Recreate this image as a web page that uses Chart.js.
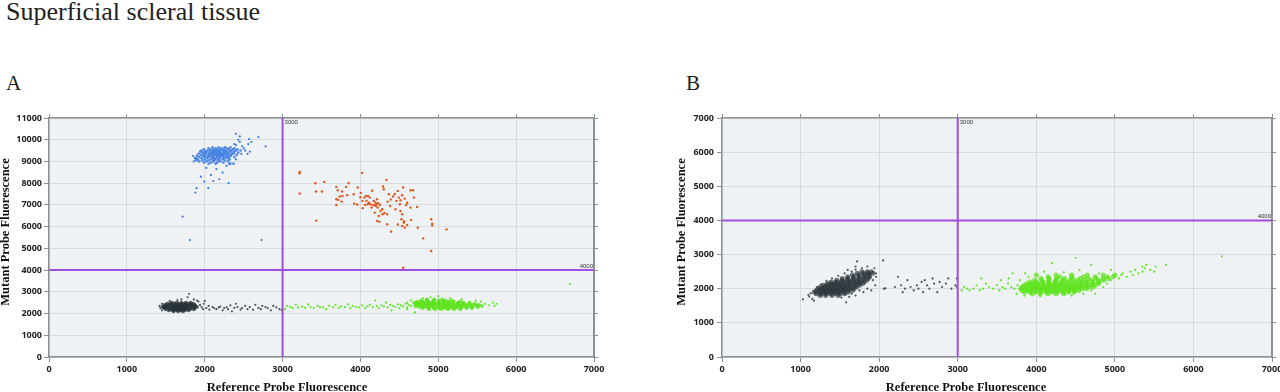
<!DOCTYPE html>
<html>
<head>
<meta charset="utf-8">
<script src="https://cdn.jsdelivr.net/npm/chart.js@4.4.1/dist/chart.umd.min.js"></script>
<style>
  html, body { margin: 0; padding: 0; background: #fff; }
  body { width: 1280px; height: 392px; position: relative; overflow: hidden; }
  .title { position: absolute; left: 6px; top: -1px; font: 26px/26px "Liberation Serif", serif; color: #222; }
  .panel { position: absolute; top: 73px; font: 21px/21px "Liberation Serif", serif; color: #222; }
  .box { position: absolute; top: 100px; height: 292px; }
</style>
</head>
<body>
<div class="title">Superficial scleral tissue</div>
<div class="panel" style="left:6px">A</div>
<div class="panel" style="left:686px">B</div>
<div class="box" style="left:0;width:620px"><canvas id="chartA"></canvas></div>
<div class="box" style="left:640px;width:640px"><canvas id="chartB"></canvas></div>
<script>
// ---- panel A : values ----
// dense double-negative cluster, rows as [y, [x...]]
const aGrayCoreRows = [
  [2500, [1580, 1640, 1700, 1760, 1820]],
  [2450, [1520, 1560, 1610, 1660, 1710, 1750, 1800, 1850]],
  [2400, [1490, 1540, 1590, 1630, 1680, 1720, 1770, 1820, 1870]],
  [2350, [1470, 1510, 1560, 1600, 1650, 1690, 1740, 1780, 1830, 1880]],
  [2300, [1460, 1500, 1550, 1590, 1630, 1670, 1710, 1750, 1800, 1850, 1900]],
  [2250, [1480, 1520, 1570, 1610, 1650, 1690, 1730, 1770, 1820, 1870]],
  [2200, [1500, 1550, 1600, 1640, 1680, 1720, 1760, 1810, 1860]],
  [2150, [1540, 1590, 1640, 1690, 1740, 1790]],
  [2100, [1600, 1660, 1720]]
];
const aGraySparse = [
  [1430, 2250], [1420, 2350], [1450, 2150], [1940, 2400], [1960, 2300], [1920, 2550], [1800, 2900],
  [1780, 2750], [1700, 2650], [1650, 2620], [1900, 2600], [1860, 2650], [1980, 2200], [1990, 2450],
  [1550, 2580], [1450, 2450], [2000, 2580], [2020, 2250], [2050, 2350], [2060, 2180], [2100, 2300],
  [2120, 2250], [2150, 2200], [2180, 2280], [2200, 2320], [2230, 2150], [2250, 2250], [2280, 2300],
  [2300, 2200], [2330, 2380], [2350, 2100], [2380, 2260], [2400, 2450], [2420, 2300], [2460, 2180],
  [2480, 2250], [2520, 2350], [2550, 2200], [2580, 2300], [2620, 2180], [2650, 2400], [2690, 2260],
  [2720, 2200], [2740, 2350], [2780, 2300], [2810, 2250], [2850, 2150], [2880, 2350], [2920, 2280],
  [2960, 2200], [2990, 2150]
];
const aGreenCoreRows = [
  [2650, [4850, 4950, 5050]],
  [2600, [4780, 4860, 4940, 5010, 5090, 5170]],
  [2550, [4730, 4800, 4870, 4930, 5000, 5060, 5130, 5200, 5280]],
  [2500, [4700, 4760, 4820, 4880, 4940, 5000, 5060, 5120, 5180, 5250, 5320, 5400]],
  [2450, [4720, 4780, 4840, 4900, 4960, 5020, 5080, 5140, 5200, 5260, 5330, 5400, 5470]],
  [2400, [4700, 4760, 4820, 4880, 4940, 5000, 5060, 5120, 5180, 5240, 5300, 5370, 5440, 5520]],
  [2350, [4730, 4790, 4850, 4910, 4970, 5030, 5090, 5150, 5210, 5270, 5340, 5410, 5490, 5560]],
  [2300, [4760, 4820, 4880, 4940, 5000, 5060, 5120, 5180, 5240, 5300, 5370, 5440, 5510]],
  [2250, [4800, 4870, 4940, 5010, 5080, 5150, 5220, 5290, 5360, 5430]],
  [2200, [4880, 4960, 5040, 5120, 5200, 5280]]
];
const aGreenSparse = [
  [3030, 2200], [3060, 2350], [3100, 2300], [3130, 2250], [3170, 2400], [3200, 2280], [3250, 2320],
  [3290, 2260], [3330, 2420], [3360, 2300], [3400, 2250], [3450, 2350], [3480, 2300], [3520, 2280],
  [3560, 2200], [3600, 2350], [3650, 2300], [3680, 2400], [3720, 2260], [3750, 2330], [3800, 2300],
  [3840, 2420], [3870, 2250], [3900, 2350], [3940, 2300], [3980, 2280], [4020, 2380], [4060, 2250],
  [4090, 2330], [4120, 2400], [4160, 2300], [4190, 2600], [4210, 2350], [4240, 2250], [4270, 2380],
  [4300, 2330], [4330, 2500], [4350, 2280], [4380, 2400], [4400, 2150], [4420, 2350], [4450, 2300],
  [4480, 2420], [4500, 2250], [4520, 2380], [4550, 2330], [4580, 2450], [4600, 2280], [4620, 2400],
  [4650, 2350], [4680, 2500], [4700, 2300], [5600, 2450], [5650, 2380], [5700, 2500], [5750, 2450],
  [5720, 2350], [5550, 2550], [5480, 2600], [4650, 2600], [4600, 2500], [4900, 2750], [5000, 2800],
  [4800, 2700], [5150, 2700], [5300, 2650], [4700, 2050], [4600, 2200], [6690, 3370]
];
const aBlueCoreRows = [
  [9650, [2100, 2180, 2260, 2330]],
  [9600, [2050, 2140, 2220, 2290, 2380]],
  [9550, [1990, 2070, 2110, 2160, 2200, 2250, 2310, 2360, 2420]],
  [9500, [1960, 2030, 2090, 2130, 2180, 2230, 2270, 2340, 2400, 2460]],
  [9450, [1940, 2000, 2060, 2120, 2150, 2190, 2240, 2280, 2320, 2380]],
  [9400, [1970, 2020, 2080, 2110, 2160, 2200, 2250, 2290, 2350, 2430]],
  [9350, [1920, 1990, 2050, 2100, 2140, 2180, 2220, 2260, 2310, 2370]],
  [9300, [1950, 2010, 2070, 2120, 2170, 2210, 2240, 2290, 2340, 2410]],
  [9250, [1900, 1980, 2040, 2090, 2150, 2190, 2230, 2280, 2330]],
  [9200, [1930, 2000, 2060, 2110, 2160, 2200, 2260, 2310, 2380]],
  [9150, [1880, 1960, 2030, 2100, 2140, 2190, 2240, 2290]],
  [9100, [1910, 2000, 2080, 2130, 2180, 2230, 2320]],
  [9050, [1890, 1970, 2050, 2120, 2170, 2260]],
  [9000, [1930, 2020, 2110, 2200, 2300]],
  [8950, [1990, 2080, 2160, 2240]],
  [8900, [2050, 2140, 2330, 2370]]
];
const aBlueSparse = [
  [2400, 9750], [2450, 9900], [2430, 10000], [2380, 9800], [2500, 9600], [2520, 9500], [2480, 9700],
  [2560, 9800], [2580, 9450], [2600, 9900], [2470, 9350], [2550, 9350], [2782, 9690], [2570, 10030],
  [2450, 10150], [2400, 10270], [2690, 10120], [2315, 8875], [2307, 8000], [1880, 7570], [1896, 7770],
  [2046, 7770], [1995, 8075], [1950, 8300], [2110, 8100], [2187, 8180], [2080, 8380], [2230, 8490],
  [1860, 9000], [1873, 9150], [1716, 6460], [1810, 5380], [2730, 5380], [2020, 8700], [2150, 8650],
  [2280, 8800], [2400, 9100], [1850, 9250]
];
const aOrange = [
  [3219, 8522], [3219, 8460], [3219, 7522], [3420, 7999], [3536, 8060], [3429, 7614], [3506, 7614],
  [3433, 6276], [3691, 7830], [3708, 7676], [3734, 7384], [3768, 7414], [3691, 7261], [3716, 7230],
  [3691, 6999], [3849, 7999], [3815, 7830], [3764, 7614], [4021, 8476], [3965, 7799], [3914, 7491],
  [4004, 7553], [4025, 7184], [4051, 7337], [4068, 7414], [4098, 7414], [4120, 7337], [4077, 7184],
  [4094, 7030], [4128, 7030], [4141, 6876], [4171, 7184], [4193, 7107], [4206, 7030], [4214, 7261],
  [4223, 6876], [4184, 6645], [4257, 6722], [4308, 6630], [4236, 6492], [4283, 6568], [4343, 6568],
  [4214, 6261], [4244, 6230], [4343, 6107], [4394, 5769], [4334, 8153], [4300, 7722], [4364, 7491],
  [4420, 7384], [4480, 7645], [4493, 7337], [4514, 7214], [4463, 7184], [4549, 7799], [4536, 7445],
  [4570, 7291], [4506, 7030], [4587, 6999], [4514, 6722], [4536, 6568], [4527, 6338], [4557, 6184],
  [4536, 6030], [4570, 5953], [4600, 6076], [4643, 7676], [4677, 7676], [4686, 7337], [4643, 6876],
  [4729, 6907], [4737, 5953], [4806, 5461], [4909, 6338], [4922, 6138], [4922, 6061], [5106, 5876],
  [4909, 4877], [4549, 4108], [4180, 7000], [4200, 6950], [4230, 7080], [4160, 6980], [4250, 7000],
  [4110, 7100], [4060, 7000], [3960, 7020], [3920, 7050], [4280, 6800], [4380, 6950], [4450, 6800],
  [4390, 7250], [4350, 7150], [4440, 7500], [4600, 7100], [4650, 6300], [4480, 6100], [4560, 6250],
  [3830, 7450], [3760, 7150], [4000, 7350], [4150, 7650], [4290, 7850], [4030, 6850]
];

// ---- panel B ----
const bGrayCoreRows = [
  [1800, [1250, 1320, 1400, 1480]],
  [1850, [1200, 1260, 1320, 1380, 1440, 1500, 1560]],
  [1900, [1180, 1240, 1290, 1340, 1390, 1440, 1490, 1550, 1600]],
  [1950, [1200, 1250, 1300, 1350, 1400, 1450, 1500, 1550, 1610, 1660]],
  [2000, [1220, 1270, 1320, 1370, 1420, 1470, 1520, 1570, 1620, 1680]],
  [2050, [1250, 1300, 1350, 1400, 1450, 1500, 1550, 1600, 1650, 1710]],
  [2100, [1290, 1340, 1390, 1440, 1490, 1540, 1590, 1640, 1700, 1750]],
  [2150, [1340, 1390, 1440, 1500, 1560, 1620, 1680, 1740, 1790]],
  [2200, [1390, 1450, 1510, 1570, 1630, 1690, 1750, 1810]],
  [2250, [1460, 1530, 1600, 1660, 1720, 1780, 1840]],
  [2300, [1530, 1600, 1670, 1740, 1800, 1860]],
  [2350, [1600, 1680, 1750, 1820, 1880]],
  [2400, [1660, 1740, 1810, 1870]],
  [2450, [1720, 1800, 1860, 1920]],
  [2500, [1780, 1850, 1900]]
];
const bGraySparse = [
  [1030, 1690], [1110, 1770], [1150, 1700], [1170, 1650], [1100, 1820], [1580, 1600], [1650, 1850],
  [1750, 1950], [1800, 1900], [1850, 2000], [1900, 1950], [1950, 2100], [1720, 2800], [1850, 2650],
  [1940, 2600], [1700, 2650], [1600, 2550], [2050, 2830], [2060, 2000], [2080, 2010], [2200, 2050],
  [2240, 2350], [2280, 2100], [2300, 1900], [2330, 2000], [2360, 2250], [2400, 2050], [2440, 1950],
  [2480, 2100], [2500, 2000], [2540, 2200], [2560, 1900], [2580, 2250], [2610, 2100], [2640, 2000],
  [2680, 2300], [2700, 2150], [2740, 1900], [2770, 2200], [2800, 2050], [2850, 2150], [2880, 2300],
  [2920, 2000], [2970, 2100], [2990, 2300], [2990, 2050], [1130, 1870], [1160, 1930], [1210, 2050],
  [1260, 2130], [1330, 2230], [1400, 2300], [1480, 2380], [1560, 2450], [1650, 2500], [1700, 2560],
  [1780, 2600], [1960, 2350], [1960, 2450], [1920, 2250], [1700, 1800], [1620, 1760], [1520, 1740]
];
const bGreenCoreRows = [
  [1850, [3950, 4050, 4150, 4250, 4350]],
  [1900, [3850, 3920, 3990, 4060, 4130, 4200, 4270, 4340, 4410, 4480]],
  [1950, [3820, 3880, 3940, 4000, 4060, 4120, 4180, 4240, 4300, 4360, 4420, 4480, 4540]],
  [2000, [3800, 3860, 3920, 3980, 4040, 4100, 4160, 4220, 4280, 4340, 4400, 4460, 4520, 4580, 4640]],
  [2050, [3820, 3880, 3940, 4000, 4060, 4120, 4180, 4240, 4300, 4360, 4420, 4480, 4540, 4600, 4660, 4720]],
  [2100, [3850, 3910, 3970, 4030, 4090, 4150, 4210, 4270, 4330, 4390, 4450, 4510, 4570, 4630, 4690, 4750]],
  [2150, [3880, 3950, 4020, 4090, 4160, 4230, 4300, 4370, 4440, 4510, 4580, 4650, 4720, 4790]],
  [2200, [3920, 4000, 4080, 4160, 4240, 4320, 4400, 4480, 4560, 4640, 4720, 4800]],
  [2250, [3980, 4070, 4160, 4250, 4340, 4430, 4520, 4610, 4700, 4790, 4860]],
  [2300, [4060, 4160, 4260, 4360, 4460, 4560, 4660, 4760, 4850, 4920]],
  [2350, [4150, 4300, 4450, 4600, 4750, 4900, 4980]],
  [2400, [4000, 4250, 4450, 4650, 4850, 5000]]
];
const bGreenSparse = [
  [3050, 1950], [3080, 2050], [3120, 2000], [3150, 1950], [3200, 2000], [3240, 2100], [3280, 1950],
  [3320, 2000], [3360, 2150], [3400, 2050], [3450, 2000], [3500, 2100], [3530, 1950], [3570, 2050],
  [3600, 2000], [3640, 2150], [3680, 2050], [3720, 2000], [3760, 2100], [3790, 2250], [3300, 2300],
  [3550, 2250], [3650, 2300], [4950, 2250], [5000, 2350], [5050, 2300], [5080, 2400], [5100, 2450],
  [5150, 2350], [5200, 2500], [5230, 2400], [5260, 2550], [5300, 2450], [5350, 2500], [5380, 2600],
  [5400, 2700], [5450, 2550], [5500, 2500], [5520, 2650], [5650, 2700], [5350, 2650], [4500, 2900],
  [4200, 2750], [4700, 2700], [4950, 2550], [3900, 2350], [3700, 2450], [4600, 1850], [4700, 1950],
  [3750, 1850], [6360, 2950], [3860, 2450], [4100, 2500], [4350, 2480], [4550, 2550], [4800, 2450],
  [4900, 2150], [4850, 2050], [4750, 1850], [4450, 1800], [4050, 1780], [3850, 1800]
];

const xTicks = [0, 1000, 2000, 3000, 4000, 5000, 6000, 7000];
const thresholdX = 3000;
const thresholdY = 4000;

function rowsToPoints(rows) {
  return rows.flatMap(([y, xs]) => xs.map(x => ({ x: x, y: y })));
}
function pairsToPoints(pairs) {
  return pairs.map(([x, y]) => ({ x: x, y: y }));
}

const GRID = '#d6dbde';
const AXIS = '#8c9194';
const TICKFONT = { family: 'Open Sans', size: 9, weight: 'bold' };
const plainNum = v => String(v); // no thousands separator

function decor(cfg) {
  return {
    id: 'decor',
    beforeDraw(chart) {
      const a = chart.chartArea, c = chart.ctx;
      c.save();
      c.fillStyle = '#eef2f4';
      c.fillRect(a.left, a.top, a.right - a.left, a.bottom - a.top);
      c.restore();
    },
    afterDatasetsDraw(chart) {
      const a = chart.chartArea, c = chart.ctx;
      const px = chart.scales.x.getPixelForValue(thresholdX);
      const py = chart.scales.y.getPixelForValue(thresholdY);
      c.save();
      c.strokeStyle = '#a04ee0';
      c.lineWidth = 2;
      c.beginPath();
      c.moveTo(px, a.top); c.lineTo(px, a.bottom);
      c.moveTo(a.left, py); c.lineTo(a.right, py);
      c.stroke();
      c.fillStyle = '#333';
      c.font = '6px "Liberation Sans"';
      c.textAlign = 'left'; c.textBaseline = 'top';
      c.fillText(String(thresholdX), px + 2, a.top + 1);
      c.textAlign = 'right'; c.textBaseline = 'bottom';
      c.fillText(String(thresholdY), a.right - 1, py - 1);
      c.restore();
    },
    afterDraw(chart) {
      const c = chart.ctx;
      c.save();
      c.fillStyle = '#111';
      c.font = 'bold 12.5px "Liberation Serif"';
      c.textAlign = 'center';
      c.textBaseline = 'alphabetic';
      c.fillText('Reference Probe Fluorescence', cfg.xTitleX, 291);
      c.translate(cfg.yTitleX, 132);
      c.rotate(-Math.PI / 2);
      c.textBaseline = 'middle';
      c.fillText('Mutant Probe Fluorescence', 0, 0);
      c.restore();
    }
  };
}

const pt = (data, color, r) => ({
  data: data, backgroundColor: color, borderWidth: 0,
  pointRadius: r, pointHoverRadius: r, xAxisID: 'x', yAxisID: 'y'
});

function makeChart(id, cfg) {
  new Chart(document.getElementById(id), {
    type: 'scatter',
    data: { datasets: cfg.datasets },
    options: {
      responsive: true,
      maintainAspectRatio: false,
      animation: false,
      layout: { padding: 0 },
      plugins: { legend: { display: false }, tooltip: { enabled: false } },
      scales: {
        x: {
          type: 'linear', position: 'bottom', min: 0, max: 7000,
          afterBuildTicks: s => { s.ticks = xTicks.map(v => ({ value: v })); },
          ticks: { font: TICKFONT, color: '#222', padding: 2, maxRotation: 0, callback: plainNum },
          grid: { color: GRID, tickColor: AXIS, tickLength: 5 },
          border: { color: AXIS, width: 1.5 },
          afterFit: s => { s.height = 35; s.paddingLeft = 0; s.paddingRight = 0; }
        },
        x2: {
          type: 'linear', position: 'top', min: 0, max: 7000,
          afterBuildTicks: s => { s.ticks = xTicks.map(v => ({ value: v })); },
          ticks: { display: false },
          grid: { drawOnChartArea: false, tickColor: AXIS, tickLength: 4 },
          border: { color: AXIS, width: 1.5 },
          afterFit: s => { s.height = 18; s.paddingLeft = 0; s.paddingRight = 0; }
        },
        y: {
          type: 'linear', position: 'left', min: 0, max: cfg.yMax,
          afterBuildTicks: s => { s.ticks = cfg.yTicks.map(v => ({ value: v })); },
          ticks: { font: TICKFONT, color: '#222', padding: cfg.yPad, callback: plainNum },
          grid: { color: GRID, tickColor: AXIS, tickLength: 5 },
          border: { color: AXIS, width: 1.5 },
          afterFit: s => { s.width = cfg.left; s.paddingTop = 0; s.paddingBottom = 0; }
        },
        y2: {
          type: 'linear', position: 'right', min: 0, max: cfg.yMax,
          afterBuildTicks: s => { s.ticks = cfg.yTicks.map(v => ({ value: v })); },
          ticks: { display: false },
          grid: { drawOnChartArea: false, tickColor: AXIS, tickLength: 4 },
          border: { color: AXIS, width: 2 },
          afterFit: s => { s.width = cfg.right; s.paddingTop = 0; s.paddingBottom = 0; }
        }
      }
    },
    plugins: [decor(cfg)]
  });
}

makeChart('chartA', {
  yMax: 11000,
  yTicks: [0, 1000, 2000, 3000, 4000, 5000, 6000, 7000, 8000, 9000, 10000, 11000],
  left: 49, right: 26, yPad: 2,
  xTitleX: 287, yTitleX: 6,
  datasets: [
    pt(pairsToPoints(aGraySparse), '#4a555c', 1.1),
    pt(rowsToPoints(aGrayCoreRows), 'rgba(38,48,52,0.75)', 2.0),
    pt(pairsToPoints(aGreenSparse), '#62e622', 1.1),
    pt(rowsToPoints(aGreenCoreRows), 'rgba(88,226,20,0.8)', 1.9),
    pt(pairsToPoints(aBlueSparse), '#3a7ae0', 1.1),
    pt(rowsToPoints(aBlueCoreRows), 'rgba(58,122,224,0.85)', 1.4),
    pt(pairsToPoints(aOrange), '#e0561b', 1.2)
  ]
});

makeChart('chartB', {
  yMax: 7000,
  yTicks: [0, 1000, 2000, 3000, 4000, 5000, 6000, 7000],
  left: 82, right: 8, yPad: 3,
  xTitleX: 326, yTitleX: 42,
  datasets: [
    pt(pairsToPoints(bGraySparse), '#4a555c', 1.1),
    pt(rowsToPoints(bGrayCoreRows), 'rgba(38,48,52,0.65)', 2.5),
    pt(pairsToPoints(bGreenSparse), '#62e622', 1.1),
    pt(rowsToPoints(bGreenCoreRows), 'rgba(88,226,20,0.7)', 2.5)
  ]
});
</script>
</body>
</html>
